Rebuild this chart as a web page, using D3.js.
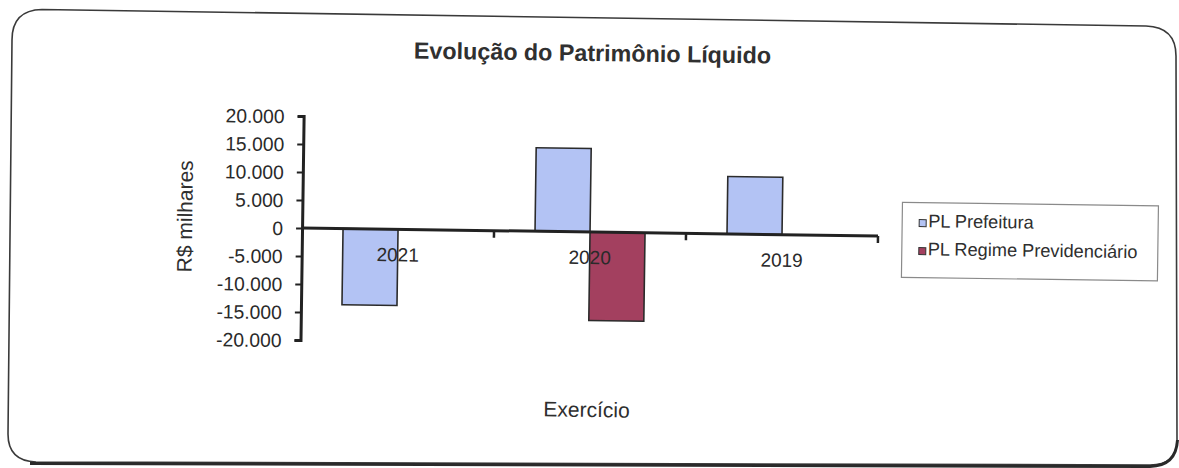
<!DOCTYPE html>
<html>
<head>
<meta charset="utf-8">
<script src="https://cdn.jsdelivr.net/npm/d3@7"></script>
<style>
  html, body { margin: 0; padding: 0; background: #fff; }
  svg { display: block; font-family: "Liberation Sans", Arial, sans-serif; }
</style>
</head>
<body>
<svg id="chart" width="1179" height="468"></svg>
<script>
// ---- data ----
const categories = ["2021", "2020", "2019"];
const seriesNames = ["PL Prefeitura", "PL Regime Previdenciário"];
const plPrefeitura = [-13600, 14900, 10250];
const plRegime = [null, -15800, null];
const yTickValues = [20000, 15000, 10000, 5000, 0, -5000, -10000, -15000, -20000];
const chartTitle = "Evolução do Patrimônio Líquido";
const yTitle = "R$ milhares";
const xTitle = "Exercício";
const seriesColors = ["#b3c3f4", "#a3405f"];

// ---- setup ----
const W = 1179, H = 468;
const svg = d3.select("#chart");

// scanned frame (drawn in page coordinates)
svg.append("path")
  .attr("d", "M12,40 Q12,10 42,9.5 L1146,26 Q1176,27 1176,56 L1177,440 Q1177,465 1150,465 L36,462 Q8,461 8,434 Z")
  .attr("fill", "#fff").attr("stroke", "#3a3a3a").attr("stroke-width", 1.6);
svg.append("path")
  .attr("d", "M30,463.5 L1150,466.5 Q1176,466 1177.5,440")
  .attr("fill", "none").attr("stroke", "#2a2a2a").attr("stroke-width", 3);

// chart content, slightly rotated like the scan
const g = svg.append("g").attr("transform", "rotate(0.8, 590, 234)");

const plot = { left: 302, right: 878, top: 120, bottom: 344 };

const x0 = d3.scaleBand().domain(categories).range([plot.left, plot.right]).paddingInner(0).paddingOuter(0);
const x1 = d3.scaleBand().domain(seriesNames).range([0, x0.bandwidth()]).paddingInner(0).paddingOuter(0.745);
const y = d3.scaleLinear().domain([-20000, 20000]).range([plot.bottom, plot.top]);

const locale = d3.formatLocale({ decimal: ",", thousands: ".", grouping: [3], currency: ["R$", ""], minus: "-" });
const fmt = locale.format(",.0f");

// bars
const rows = categories.map((c, i) => ({ cat: c, values: [plPrefeitura[i], plRegime[i]] }));
const groups = g.append("g").selectAll("g").data(rows).join("g")
  .attr("transform", d => `translate(${x0(d.cat)},0)`);
groups.selectAll("rect")
  .data(d => d.values.map((v, j) => ({ name: seriesNames[j], v, j })).filter(e => e.v !== null))
  .join("rect")
  .attr("x", e => x1(e.name))
  .attr("width", x1.bandwidth())
  .attr("y", e => y(Math.max(0, e.v)))
  .attr("height", e => Math.abs(y(e.v) - y(0)))
  .attr("fill", e => seriesColors[e.j])
  .attr("stroke", "#2b2b2b").attr("stroke-width", 1.6);

// y axis
const yAxis = g.append("g").attr("transform", `translate(${plot.left},0)`)
  .call(d3.axisLeft(y).tickValues(yTickValues).tickFormat(fmt).tickSize(6).tickPadding(13));
yAxis.select(".domain").attr("stroke", "#222").attr("stroke-width", 3);
yAxis.selectAll(".tick line").attr("stroke", "#222").attr("stroke-width", 2);
yAxis.selectAll(".tick text").attr("fill", "#2a2a2a").style("font-size", "19.3px").attr("dy", "0.36em");

// x axis line at zero with boundary ticks
const xAxis = g.append("g").attr("transform", `translate(0,${y(0)})`);
xAxis.append("line").attr("x1", plot.left).attr("x2", plot.right)
  .attr("stroke", "#222").attr("stroke-width", 3);
const boundaries = categories.map(c => x0(c) + x0.bandwidth()).concat([]);
xAxis.selectAll("line.bt").data(boundaries).join("line").attr("class", "bt")
  .attr("x1", d => d).attr("x2", d => d).attr("y1", 0).attr("y2", 7)
  .attr("stroke", "#222").attr("stroke-width", 2.5);
xAxis.selectAll("text.cat").data(categories).join("text").attr("class", "cat")
  .attr("x", d => x0(d) + x0.bandwidth() / 2)
  .attr("y", 32)
  .attr("text-anchor", "middle")
  .attr("fill", "#2a2a2a")
  .style("font-size", "19px")
  .text(d => d);

// title
g.append("text").attr("x", 590).attr("y", 61).attr("text-anchor", "middle")
  .attr("fill", "#303030").style("font-size", "23.3px").style("font-weight", "bold")
  .text(chartTitle);

// axis titles
g.append("text").attr("transform", "translate(192,222) rotate(-90)")
  .attr("text-anchor", "middle").attr("fill", "#2e2e2e").style("font-size", "21px")
  .text(yTitle);
g.append("text").attr("x", 589).attr("y", 417).attr("text-anchor", "middle")
  .attr("fill", "#2e2e2e").style("font-size", "21px")
  .text(xTitle);

// legend
const lg = g.append("g").attr("transform", "translate(902,198)");
lg.append("rect").attr("width", 256).attr("height", 75)
  .attr("fill", "#fff").attr("stroke", "#8a8a8a").attr("stroke-width", 1.2);
const items = lg.selectAll("g.item").data(seriesNames).join("g").attr("class", "item")
  .attr("transform", (d, i) => `translate(17,${17 + i * 28})`);
items.append("rect").attr("width", 7).attr("height", 7)
  .attr("fill", (d, i) => seriesColors[i]).attr("stroke", "#333").attr("stroke-width", 1);
items.append("text").attr("x", 9).attr("y", 7.5)
  .attr("fill", "#2e2e2e").style("font-size", "18.2px")
  .text(d => d);
</script>
</body>
</html>
